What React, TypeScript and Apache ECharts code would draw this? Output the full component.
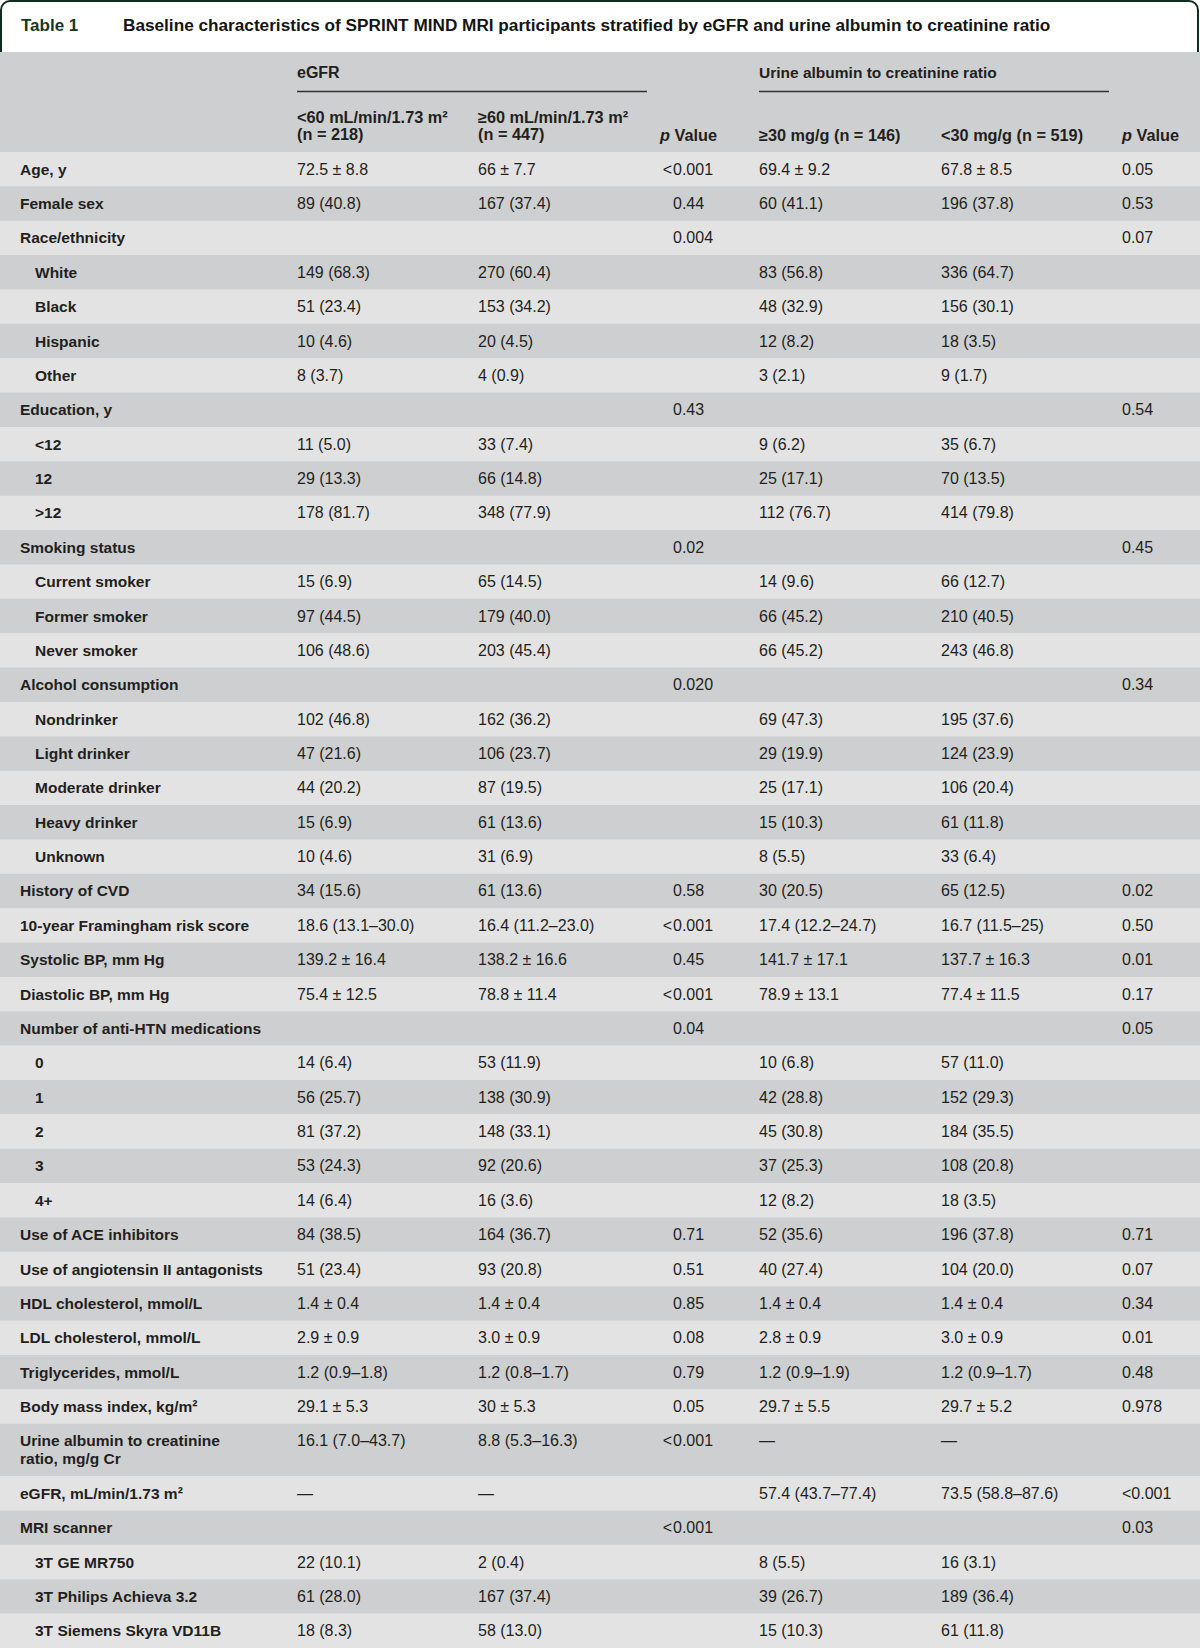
import React, { useEffect, useRef } from "react";
import * as echarts from "echarts";

const TITLE_TAG = "Table 1";
const TITLE = "Baseline characteristics of SPRINT MIND MRI participants stratified by eGFR and urine albumin to creatinine ratio";

const GROUP_HEADERS = ["eGFR", "Urine albumin to creatinine ratio"];
const SUB_HEADERS = [
  "<60 mL/min/1.73 m²\n(n = 218)",
  "≥60 mL/min/1.73 m²\n(n = 447)",
  "p Value",
  "≥30 mg/g (n = 146)",
  "<30 mg/g (n = 519)",
  "p Value",
];

const labels = [
  "Age, y", "Female sex", "Race/ethnicity", "White", "Black", "Hispanic", "Other",
  "Education, y", "<12", "12", ">12", "Smoking status", "Current smoker", "Former smoker",
  "Never smoker", "Alcohol consumption", "Nondrinker", "Light drinker", "Moderate drinker",
  "Heavy drinker", "Unknown", "History of CVD", "10-year Framingham risk score",
  "Systolic BP, mm Hg", "Diastolic BP, mm Hg", "Number of anti-HTN medications",
  "0", "1", "2", "3", "4+", "Use of ACE inhibitors", "Use of angiotensin II antagonists",
  "HDL cholesterol, mmol/L", "LDL cholesterol, mmol/L", "Triglycerides, mmol/L",
  "Body mass index, kg/m²", "Urine albumin to creatinine\nratio, mg/g Cr",
  "eGFR, mL/min/1.73 m²", "MRI scanner", "3T GE MR750", "3T Philips Achieva 3.2",
  "3T Siemens Skyra VD11B",
];

const indented = [
  0, 0, 0, 1, 1, 1, 1, 0, 1, 1, 1, 0, 1, 1, 1, 0, 1, 1, 1, 1, 1, 0, 0, 0, 0, 0,
  1, 1, 1, 1, 1, 0, 0, 0, 0, 0, 0, 0, 0, 0, 1, 1, 1,
];

const egfrLow = [
  "72.5 ± 8.8", "89 (40.8)", "", "149 (68.3)", "51 (23.4)", "10 (4.6)", "8 (3.7)",
  "", "11 (5.0)", "29 (13.3)", "178 (81.7)", "", "15 (6.9)", "97 (44.5)", "106 (48.6)",
  "", "102 (46.8)", "47 (21.6)", "44 (20.2)", "15 (6.9)", "10 (4.6)", "34 (15.6)",
  "18.6 (13.1–30.0)", "139.2 ± 16.4", "75.4 ± 12.5", "", "14 (6.4)", "56 (25.7)",
  "81 (37.2)", "53 (24.3)", "14 (6.4)", "84 (38.5)", "51 (23.4)", "1.4 ± 0.4",
  "2.9 ± 0.9", "1.2 (0.9–1.8)", "29.1 ± 5.3", "16.1 (7.0–43.7)", "—", "",
  "22 (10.1)", "61 (28.0)", "18 (8.3)",
];

const egfrHigh = [
  "66 ± 7.7", "167 (37.4)", "", "270 (60.4)", "153 (34.2)", "20 (4.5)", "4 (0.9)",
  "", "33 (7.4)", "66 (14.8)", "348 (77.9)", "", "65 (14.5)", "179 (40.0)", "203 (45.4)",
  "", "162 (36.2)", "106 (23.7)", "87 (19.5)", "61 (13.6)", "31 (6.9)", "61 (13.6)",
  "16.4 (11.2–23.0)", "138.2 ± 16.6", "78.8 ± 11.4", "", "53 (11.9)", "138 (30.9)",
  "148 (33.1)", "92 (20.6)", "16 (3.6)", "164 (36.7)", "93 (20.8)", "1.4 ± 0.4",
  "3.0 ± 0.9", "1.2 (0.8–1.7)", "30 ± 5.3", "8.8 (5.3–16.3)", "—", "",
  "2 (0.4)", "167 (37.4)", "58 (13.0)",
];

const pEgfr = [
  "<0.001", "0.44", "0.004", "", "", "", "", "0.43", "", "", "", "0.02", "", "", "",
  "0.020", "", "", "", "", "", "0.58", "<0.001", "0.45", "<0.001", "0.04",
  "", "", "", "", "", "0.71", "0.51", "0.85", "0.08", "0.79", "0.05", "<0.001", "",
  "<0.001", "", "", "",
];

const uacrHigh = [
  "69.4 ± 9.2", "60 (41.1)", "", "83 (56.8)", "48 (32.9)", "12 (8.2)", "3 (2.1)",
  "", "9 (6.2)", "25 (17.1)", "112 (76.7)", "", "14 (9.6)", "66 (45.2)", "66 (45.2)",
  "", "69 (47.3)", "29 (19.9)", "25 (17.1)", "15 (10.3)", "8 (5.5)", "30 (20.5)",
  "17.4 (12.2–24.7)", "141.7 ± 17.1", "78.9 ± 13.1", "", "10 (6.8)", "42 (28.8)",
  "45 (30.8)", "37 (25.3)", "12 (8.2)", "52 (35.6)", "40 (27.4)", "1.4 ± 0.4",
  "2.8 ± 0.9", "1.2 (0.9–1.9)", "29.7 ± 5.5", "—", "57.4 (43.7–77.4)", "",
  "8 (5.5)", "39 (26.7)", "15 (10.3)",
];

const uacrLow = [
  "67.8 ± 8.5", "196 (37.8)", "", "336 (64.7)", "156 (30.1)", "18 (3.5)", "9 (1.7)",
  "", "35 (6.7)", "70 (13.5)", "414 (79.8)", "", "66 (12.7)", "210 (40.5)", "243 (46.8)",
  "", "195 (37.6)", "124 (23.9)", "106 (20.4)", "61 (11.8)", "33 (6.4)", "65 (12.5)",
  "16.7 (11.5–25)", "137.7 ± 16.3", "77.4 ± 11.5", "", "57 (11.0)", "152 (29.3)",
  "184 (35.5)", "108 (20.8)", "18 (3.5)", "196 (37.8)", "104 (20.0)", "1.4 ± 0.4",
  "3.0 ± 0.9", "1.2 (0.9–1.7)", "29.7 ± 5.2", "—", "73.5 (58.8–87.6)", "",
  "16 (3.1)", "189 (36.4)", "61 (11.8)",
];

const pUacr = [
  "0.05", "0.53", "0.07", "", "", "", "", "0.54", "", "", "", "0.45", "", "", "",
  "0.34", "", "", "", "", "", "0.02", "0.50", "0.01", "0.17", "0.05",
  "", "", "", "", "", "0.71", "0.07", "0.34", "0.01", "0.48", "0.978", "", "<0.001",
  "0.03", "", "", "",
];

// layout
const W = 1200;
const H = 1648;
const FONT = "'Liberation Sans', Arial, sans-serif";
const TEXT = "#231f20";
const GREEN = "#102d1d";
const LIGHT = "#e3e3e4";
const DARK = "#cecfd0";
const HEADER_TOP = 52;
const BODY_TOP = 152;
const ROW_H = 34.37;
const EXTRA_LINE = 18;
const LABEL_X = 20;
const INDENT_X = 35;
const COLS_X = [297, 478, 673, 759, 941, 1122];

function buildGraphic() {
  const els: any[] = [];
  // title frame
  els.push({
    type: "rect",
    shape: { x: 1, y: 1, width: W - 3, height: 80, r: [9, 9, 0, 0] },
    style: { fill: "#ffffff", stroke: GREEN, lineWidth: 2 },
  });
  els.push({
    type: "text",
    x: 21, y: 25,
    style: { text: TITLE_TAG, font: `bold 17px ${FONT}`, fill: "#163826", verticalAlign: "middle" },
  });
  els.push({
    type: "text",
    x: 123, y: 25,
    style: { text: TITLE, font: `bold 17.2px ${FONT}`, fill: "#151515", verticalAlign: "middle" },
  });
  // header
  els.push({
    type: "rect",
    shape: { x: 0, y: HEADER_TOP, width: W, height: BODY_TOP - HEADER_TOP },
    style: { fill: DARK },
  });
  els.push({
    type: "text", x: COLS_X[0], y: 72.5,
    style: { text: GROUP_HEADERS[0], font: `bold 16px ${FONT}`, fill: TEXT, verticalAlign: "middle" },
  });
  els.push({
    type: "text", x: COLS_X[3], y: 72.5,
    style: { text: GROUP_HEADERS[1], font: `bold 15.5px ${FONT}`, fill: TEXT, verticalAlign: "middle" },
  });
  els.push({
    type: "line", shape: { x1: COLS_X[0], y1: 91.5, x2: 647, y2: 91.5 },
    style: { stroke: "#333333", lineWidth: 1.5 },
  });
  els.push({
    type: "line", shape: { x1: COLS_X[3], y1: 91.5, x2: 1109, y2: 91.5 },
    style: { stroke: "#333333", lineWidth: 1.5 },
  });
  SUB_HEADERS.forEach((t, i) => {
    const isP = t === "p Value";
    const multi = t.indexOf("\n") >= 0;
    const x = isP ? (i === 2 ? 660 : 1122) : COLS_X[i];
    els.push({
      type: "text",
      x,
      y: multi ? 108.5 : 126,
      style: {
        text: isP ? "{i|p} Value" : t,
        font: `bold 16.3px ${FONT}`,
        fill: TEXT,
        lineHeight: 17,
        verticalAlign: "top",
        rich: { i: { fontStyle: "italic", fontWeight: "bold", fontSize: 16.3, fontFamily: FONT, fill: TEXT } },
      },
    });
  });

  // body rows
  let y = BODY_TOP;
  labels.forEach((lab, r) => {
    const lines = lab.split("\n").length;
    const h = ROW_H + (lines - 1) * EXTRA_LINE;
    els.push({
      type: "rect",
      shape: { x: 0, y, width: W, height: h + 0.5 },
      style: { fill: r % 2 === 0 ? LIGHT : DARK },
    });
    const ty = y + 17.2 - 9;
    els.push({
      type: "text",
      x: indented[r] ? INDENT_X : LABEL_X,
      y: ty,
      style: { text: lab, font: `bold 15.5px ${FONT}`, fill: TEXT, lineHeight: 18, verticalAlign: "top" },
    });
    const vals = [egfrLow[r], egfrHigh[r], pEgfr[r], uacrHigh[r], uacrLow[r], pUacr[r]];
    vals.forEach((v, c) => {
      if (!v) return;
      if (c === 2 && v.startsWith("<")) {
        els.push({
          type: "text", x: COLS_X[c] - 1, y: ty,
          style: { text: "<", font: `16px ${FONT}`, fill: TEXT, lineHeight: 18, verticalAlign: "top", align: "right" },
        });
        els.push({
          type: "text", x: COLS_X[c], y: ty,
          style: { text: v.slice(1), font: `16px ${FONT}`, fill: TEXT, lineHeight: 18, verticalAlign: "top" },
        });
        return;
      }
      els.push({
        type: "text", x: COLS_X[c], y: ty,
        style: { text: v, font: `16px ${FONT}`, fill: TEXT, lineHeight: 18, verticalAlign: "top" },
      });
    });
    y += h;
  });
  return els;
}

export default function App() {
  const ref = useRef<HTMLDivElement>(null);
  useEffect(() => {
    if (!ref.current) return;
    const chart = echarts.init(ref.current, undefined, { renderer: "svg" });
    chart.setOption({
      animation: false,
      backgroundColor: "#ffffff",
      graphic: { elements: buildGraphic() },
    });
    return () => chart.dispose();
  }, []);
  return (
    <div
      ref={ref}
      style={{ position: "absolute", left: 0, top: 0, width: W, height: H }}
    />
  );
}
